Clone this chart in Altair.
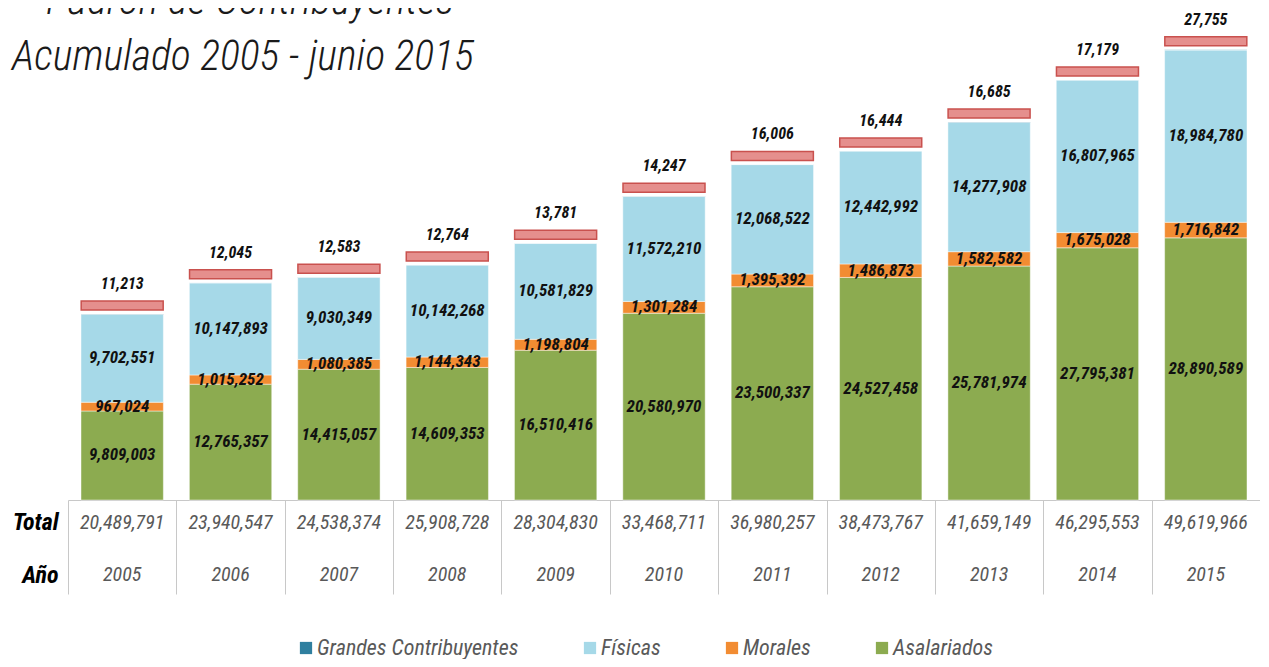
import altair as alt
import pandas as pd

YEARS = ["2005", "2006", "2007", "2008", "2009", "2010", "2011", "2012", "2013", "2014", "2015"]
ASALARIADOS = [9809003, 12765357, 14415057, 14609353, 16510416, 20580970, 23500337, 24527458, 25781974, 27795381, 28890589]
MORALES = [967024, 1015252, 1080385, 1144343, 1198804, 1301284, 1395392, 1486873, 1582582, 1675028, 1716842]
FISICAS = [9702551, 10147893, 9030349, 10142268, 10581829, 11572210, 12068522, 12442992, 14277908, 16807965, 18984780]
GRANDES = [11213, 12045, 12583, 12764, 13781, 14247, 16006, 16444, 16685, 17179, 27755]
TOTALES = [20489791, 23940547, 24538374, 25908728, 28304830, 33468711, 36980257, 38473767, 41659149, 46295553, 49619966]

CATEGORIES = ["Grandes Contribuyentes", "Físicas", "Morales", "Asalariados"]
COLORS = ["#2f7f9f", "#a6d9e8", "#f28c32", "#8cab50"]
STACK_ORDER = {"Asalariados": 0, "Morales": 1, "Físicas": 2, "Grandes Contribuyentes": 3}
TITLE_LINES = ["Padrón de Contribuyentes", "Acumulado 2005 - junio 2015"]
ROW_LABELS = ["Total", "Año"]

series = {
    "Asalariados": ASALARIADOS,
    "Morales": MORALES,
    "Físicas": FISICAS,
    "Grandes Contribuyentes": GRANDES,
}
rows = []
for i, yr in enumerate(YEARS):
    for cat, vals in series.items():
        rows.append({"year": yr, "cat": cat, "value": vals[i], "ord": STACK_ORDER[cat]})
df = pd.DataFrame(rows)

tab_rows = []
for i, yr in enumerate(YEARS):
    tab_rows.append({"year": yr, "row": "Total", "txt": f"{TOTALES[i]:,}"})
    tab_rows.append({"year": yr, "row": "Año", "txt": yr})
tab_df = pd.DataFrame(tab_rows)

FONT = "Roboto Condensed, Roboto, sans-serif"
W, H = 1192, 490
YMAX = 54_000_000

base = alt.Chart(df).transform_stack(
    stack="value",
    groupby=["year"],
    sort=[alt.SortField("ord", order="ascending")],
    as_=["v0", "v1"],
).transform_calculate(
    mid="(datum.v0 + datum.v1) / 2",
    label="format(datum.value, ',d')",
)

xenc = alt.X(
    "year:O",
    scale=alt.Scale(paddingInner=0.24, paddingOuter=0.12),
    axis=alt.Axis(labels=False, ticks=False, title=None, domain=True,
                  domainColor="#c8c8c8", grid=False),
)
yscale = alt.Scale(domain=[0, YMAX])

bars = base.mark_bar(stroke="#ffffff", strokeOpacity=0.45, strokeWidth=1).encode(
    x=xenc,
    y=alt.Y("v0:Q", scale=yscale, axis=None),
    y2="v1:Q",
    color=alt.Color(
        "cat:N",
        scale=alt.Scale(domain=CATEGORIES, range=COLORS),
        legend=alt.Legend(
            orient="none", legendX=227, legendY=627, direction="horizontal",
            title=None, symbolType="square", symbolSize=150, symbolStrokeWidth=0,
            labelFont=FONT, labelFontSize=22, labelFontStyle="italic",
            labelColor="#595959", columnPadding=60, labelOffset=0, labelLimit=400,
        ),
    ),
)

band = base.transform_filter("datum.cat == 'Grandes Contribuyentes'").mark_tick(
    thickness=9, size=82, yOffset=-8.5, color="#e58f8d", stroke="#c9514e",
    strokeWidth=1.5, opacity=1,
).encode(x=alt.X("year:O"), y=alt.Y("v1:Q", scale=yscale))

glabels = base.transform_filter("datum.cat == 'Grandes Contribuyentes'").mark_text(
    yOffset=-30, font=FONT, fontSize=16, fontWeight="bold", fontStyle="italic",
    color="#111111",
).encode(x=alt.X("year:O"), y=alt.Y("v1:Q", scale=yscale), text="label:N")

seglabels = base.transform_filter("datum.cat != 'Grandes Contribuyentes'").mark_text(
    font=FONT, fontSize=17, fontWeight="bold", fontStyle="italic", color="#111111",
).encode(x=alt.X("year:O"), y=alt.Y("mid:Q", scale=yscale), text="label:N")

title1 = alt.Chart(pd.DataFrame({"t": [TITLE_LINES[0]]})).mark_text(
    align="left", baseline="alphabetic", font=FONT, fontSize=42, fontWeight=300,
    fontStyle="italic", color="#1a1a1a",
).encode(x=alt.value(-22), y=alt.value(4), text="t:N")

title2 = alt.Chart(pd.DataFrame({"t": [TITLE_LINES[1]]})).mark_text(
    align="left", baseline="alphabetic", font=FONT, fontSize=42, fontWeight=300,
    fontStyle="italic", color="#1a1a1a",
).encode(x=alt.value(-56), y=alt.value(60), text="t:N")

top = alt.layer(bars, band, glabels, seglabels, title1, title2).properties(width=W, height=H)

tab = alt.Chart(tab_df).mark_text(
    font=FONT, fontSize=20, fontStyle="italic", color="#595959", yOffset=2,
).encode(
    x=alt.X(
        "year:O",
        scale=alt.Scale(paddingInner=0, paddingOuter=0),
        axis=alt.Axis(labels=False, ticks=False, domain=False, title=None,
                      grid=True, gridColor="#c8c8c8", tickBand="extent"),
    ),
    y=alt.Y(
        "row:N", sort=ROW_LABELS,
        scale=alt.Scale(type="point", padding=0.4),
        axis=alt.Axis(title=None, domain=False, ticks=False, labelFont=FONT,
                      labelFontSize=24, labelFontWeight="bold",
                      labelFontStyle="italic", labelColor="#000000",
                      labelPadding=10, labelOffset=2),
    ),
    text="txt:N",
).properties(width=W, height=94)

chart = alt.vconcat(top, tab, spacing=0, bounds="flush").resolve_scale(
    x="independent"
).properties(
    padding={"top": -28, "left": 4, "right": 0, "bottom": 0}
).configure_view(strokeWidth=0)

chart.save("out.html", embed_options={"renderer": "svg", "actions": False})
